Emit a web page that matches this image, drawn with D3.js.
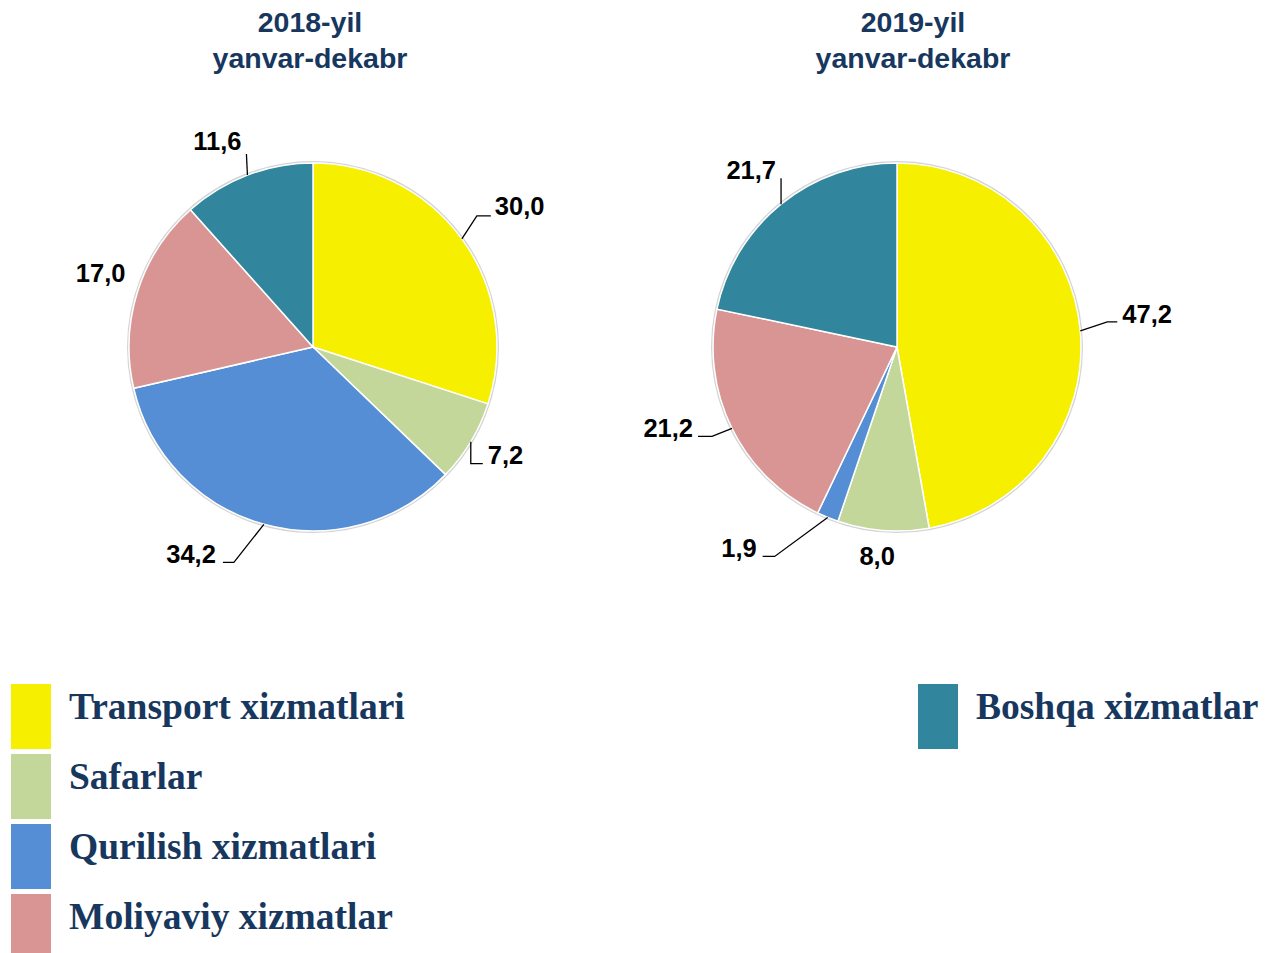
<!DOCTYPE html>
<html>
<head>
<meta charset="utf-8">
<script src="https://cdn.jsdelivr.net/npm/d3@7"></script>
<style>
  body { margin: 0; background: #fff; }
  svg { display: block; }
</style>
</head>
<body>
<svg id="chart"></svg>
<script>
// data
const categories = ["Transport xizmatlari", "Safarlar", "Qurilish xizmatlari", "Moliyaviy xizmatlar", "Boshqa xizmatlar"];
const values2018 = [30.0, 7.2, 34.2, 17.0, 11.6];
const values2019 = [47.2, 8.0, 1.9, 21.2, 21.7];
const titles = [["2018-yil", "yanvar-dekabr"], ["2019-yil", "yanvar-dekabr"]];
const colors = ["#f7ef00", "#c4d79b", "#558ed5", "#d99594", "#31859c"];

let width = 1270;
let height = 953;
let radius = 184;
let navy = "#17375e";

const svg = d3.select("#chart").attr("width", width).attr("height", height);

const fmt = d3.formatLocale({ decimal: ",", thousands: " ", grouping: [3], currency: ["", ""] }).format(".1f");

// leader layout per slice: elbow offset from rim point, horizontal run, text offset
const leaders2018 = [
  { ex: 15, ey: -23, h: 14, anchor: "start", tx: 4, ty: -1 },
  { ex: 0, ey: 22, h: 12, anchor: "start", tx: 5, ty: 0 },
  { ex: -30, ey: 38, h: -11, anchor: "end", tx: -7, ty: 1 },
  { none: true, anchor: "middle", tx: -37, ty: -9 },
  { ex: -1, ey: -21, h: 0, anchor: "end", tx: -5, ty: -4 },
];
const leaders2019 = [
  { ex: 27, ey: -9, h: 10, anchor: "start", tx: 5, ty: 1 },
  { none: true, anchor: "middle", tx: -6, ty: 35 },
  { ex: -53, ey: 39, h: -12, anchor: "end", tx: -6, ty: 1 },
  { ex: -20, ey: 8, h: -14, anchor: "end", tx: -5, ty: 1 },
  { ex: 0, ey: -26, h: 0, anchor: "end", tx: -5, ty: 1 },
];

const pie = d3.pie().sort(null).value((d) => d);
const arc = d3.arc().innerRadius(0).outerRadius(radius);

const drawPie = (values, cx, cy, leaders, title, titleX) => {
  const g = svg.append("g").attr("transform", `translate(${cx}, ${cy})`);

  g.append("circle")
    .attr("r", radius + 1)
    .attr("fill", "none")
    .attr("stroke", "#d4d4d4")
    .attr("stroke-width", 2);

  const arcs = pie(values);

  g.selectAll("path")
    .data(arcs)
    .enter()
    .append("path")
    .attr("d", arc)
    .attr("fill", (d, i) => colors[i])
    .attr("stroke", "#fff")
    .attr("stroke-width", 1.5);

  arcs.forEach((d, i) => {
    const mid = (d.startAngle + d.endAngle) / 2;
    const px = radius * Math.sin(mid);
    const py = -radius * Math.cos(mid);
    const L = leaders[i];
    let tx, ty;
    if (L.none) {
      tx = px + L.tx;
      ty = py + L.ty;
    } else {
      const ex = px + L.ex;
      const ey = py + L.ey;
      const hx = ex + L.h;
      g.append("polyline")
        .attr("points", `${px},${py} ${ex},${ey} ${hx},${ey}`)
        .attr("fill", "none")
        .attr("stroke", "#000")
        .attr("stroke-width", 1.3);
      tx = hx + L.tx;
      ty = ey + L.ty;
    }
    g.append("text")
      .attr("x", tx)
      .attr("y", ty)
      .attr("text-anchor", L.anchor)
      .attr("font-family", "Liberation Sans, Arial, sans-serif")
      .attr("font-weight", "bold")
      .attr("font-size", 25.5)
      .attr("fill", "#000")
      .text(fmt(values[i]));
  });

  svg.append("text")
    .attr("x", titleX)
    .attr("y", 32)
    .attr("text-anchor", "middle")
    .attr("font-family", "Liberation Sans, Arial, sans-serif")
    .attr("font-weight", "bold")
    .attr("font-size", 28.5)
    .attr("fill", navy)
    .text(title[0]);

  svg.append("text")
    .attr("x", titleX)
    .attr("y", 68)
    .attr("text-anchor", "middle")
    .attr("font-family", "Liberation Sans, Arial, sans-serif")
    .attr("font-weight", "bold")
    .attr("font-size", 28.5)
    .attr("fill", navy)
    .text(title[1]);
};

const drawLegend = () => {
  const pos = [
    { x: 11, y: 684 },
    { x: 11, y: 754 },
    { x: 11, y: 824 },
    { x: 11, y: 894 },
    { x: 918, y: 684 },
  ];
  const lg = svg.append("g");
  categories.forEach((c, i) => {
    lg.append("rect")
      .attr("x", pos[i].x)
      .attr("y", pos[i].y)
      .attr("width", 40)
      .attr("height", 65)
      .attr("fill", colors[i]);
    lg.append("text")
      .attr("x", pos[i].x + 58)
      .attr("y", pos[i].y + 35)
      .attr("font-family", "Liberation Serif, Times New Roman, serif")
      .attr("font-weight", "bold")
      .attr("font-size", 37.5)
      .attr("fill", navy)
      .text(c);
  });
};

drawPie(values2018, 313, 347, leaders2018, titles[0], 310);
drawPie(values2019, 897, 347, leaders2019, titles[1], 913);
drawLegend();
</script>
</body>
</html>
